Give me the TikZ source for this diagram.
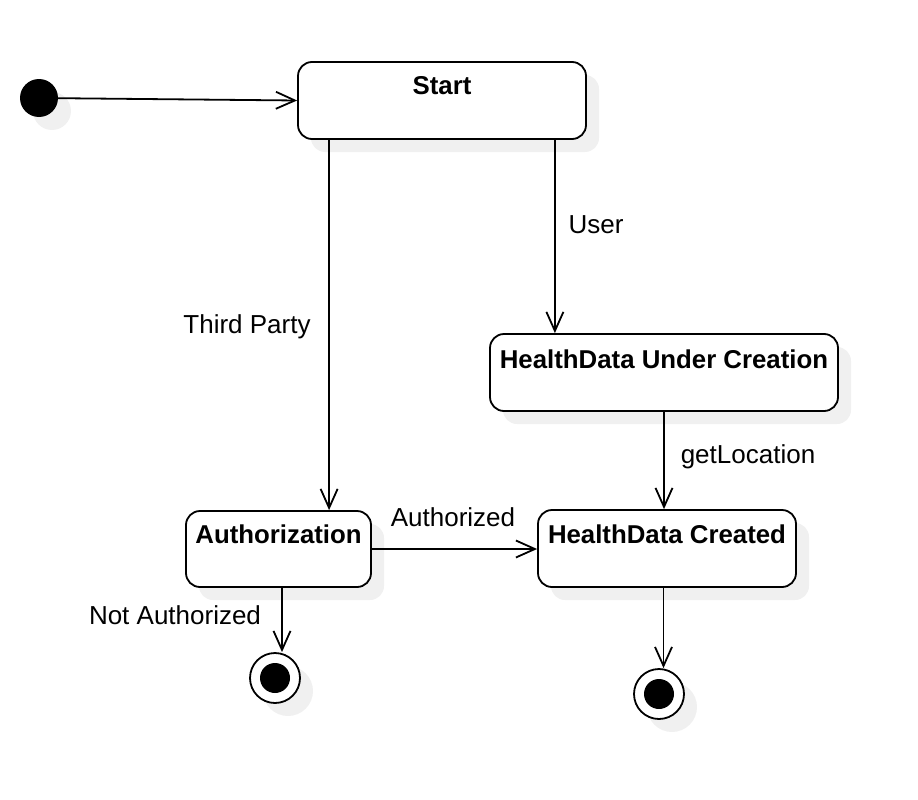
\documentclass[tikz,border=0pt]{standalone}
\usepackage{fontspec}
\setmainfont{Liberation Sans}
\usetikzlibrary{arrows.meta,shadows}
\tikzset{
  shade box/.style={drop shadow={shadow xshift=13pt,shadow yshift=-13pt,fill=black!6,opacity=1}},
  state/.style={draw,line width=1.8pt,rounded corners=14pt,fill=white,shade box,inner sep=0pt},
  statename/.style={font=\fontsize{25.8}{30}\selectfont\bfseries},
  trlabel/.style={font=\fontsize{26}{30}\selectfont},
  trans/.style={line width=1.8pt,-{Straight Barb[length=19pt,width=17pt,line width=1.8pt]}},
  endstate/.style={circle,draw,line width=1.8pt,fill=white,minimum size=50pt,inner sep=0pt,shade box},
  dot/.style={circle,fill=black,inner sep=0pt},
}
\begin{document}
\begin{tikzpicture}[x=1pt,y=-1pt]
\useasboundingbox (0,0) rectangle (918,800);
\node[dot,minimum size=38pt,shade box] (init) at (39,98) {};
\node[state,minimum width=288pt,minimum height=77pt] (start) at (442,100.5) {};
\node[state,minimum width=348pt,minimum height=77pt] (huc) at (664,372.5) {};
\node[state,minimum width=185pt,minimum height=76pt] (auth) at (278.5,549) {};
\node[state,minimum width=258pt,minimum height=77pt] (hdc) at (667,548.5) {};
\node[endstate] (fin1) at (275,678) {};
\node[dot,minimum size=30pt] (fin1dot) at (fin1) {};
\node[endstate] (fin2) at (659,694) {};
\node[dot,minimum size=30pt] (fin2dot) at (fin2) {};
\node[statename] (startT) at ([yshift=-25pt]start.north) {Start};
\node[statename] (hucT) at ([yshift=-26pt]huc.north) {HealthData Under Creation};
\node[statename] (authT) at ([yshift=-24pt]auth.north) {Authorization};
\node[statename] (hdcT) at ([yshift=-25pt]hdc.north) {HealthData Created};
\draw[trans] (init) -- (start.west);
\draw[trans] ([xshift=32pt]start.south west) -- ([xshift=32pt]start.south west |- auth.north);
\draw[trans] ([xshift=-32pt]start.south east) -- ([xshift=-32pt]start.south east |- huc.north);
\draw[trans] (huc.south) -- (huc.south |- hdc.north);
\draw[trans] (auth.east) -- (auth.east -| hdc.west);
\draw[trans] ([xshift=3.5pt]auth.south) -- ([xshift=3.5pt]auth.south |- fin1.north);
\draw[trans] ([xshift=-3.5pt]hdc.south) -- ([xshift=-3.5pt]hdc.south |- fin2.north);
\node[trlabel] (userL) at (596,225) {User};
\node[trlabel] (thirdL) at (247,327) {Third Party};
\node[trlabel] (locL) at (748,457) {getLocation};
\node[trlabel] (authL) at (453,517) {Authorized};
\node[trlabel] (notL) at (175,615) {Not Authorized};
\end{tikzpicture}
\end{document}
